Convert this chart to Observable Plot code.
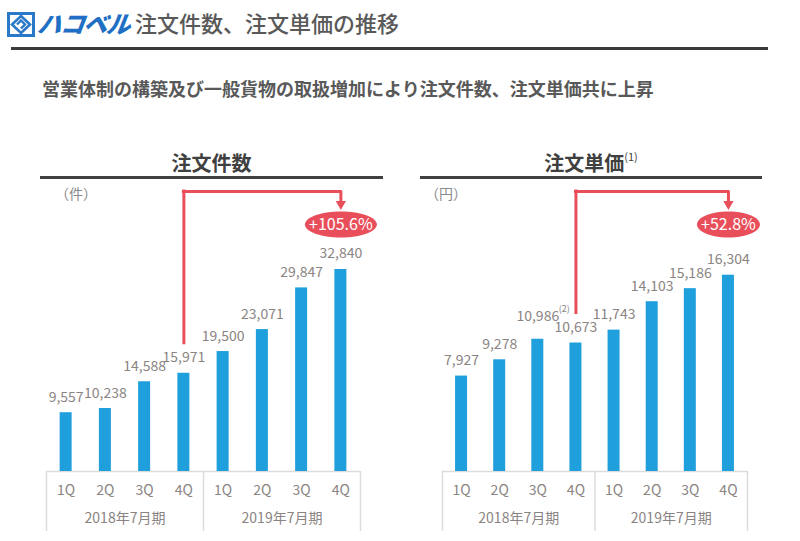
<!DOCTYPE html>
<html><head><meta charset="utf-8">
<script src="https://cdn.jsdelivr.net/npm/d3@7"></script>
<script src="https://cdn.jsdelivr.net/npm/@observablehq/plot@0.6"></script>
<style>
body{margin:0;background:#fff;font-family:"Noto Sans CJK JP","Noto Sans",sans-serif;}
#page{position:relative;width:800px;height:541px;overflow:hidden;background:#fff;}
.abs{position:absolute;white-space:nowrap;line-height:1;}
.chart{position:absolute;top:180px;}
</style></head><body>
<div id="page">
  <svg class="abs" style="left:7px;top:12px" width="28" height="25" viewBox="0 0 28 25">
    <rect x="0" y="0" width="28" height="25" fill="#2a78c8"/>
    <rect x="3" y="3" width="22" height="19" fill="#ffffff"/>
    <path d="M14 4 L23 12.5 L14 21 L5 12.5 Z" fill="none" stroke="#2a78c8" stroke-width="2.6"/>
    <path d="M10 12.5 L14 8.5 L18 12.5 L14 16.5" fill="none" stroke="#2a78c8" stroke-width="2.4"/>
  </svg>
  <div class="abs" id="brand" style="left:38px;top:11px;font-size:24px;font-weight:900;font-style:italic;color:#1f6fc4;letter-spacing:-1px;transform:skewX(-8deg);"></div>
  <div class="abs" id="title" style="left:135px;top:11px;font-size:22px;color:#595959;font-weight:500;"></div>
  <div class="abs" style="left:11px;top:47px;width:757px;height:3px;background:#3a3a3a;"></div>
  <div class="abs" id="subtitle" style="left:42px;top:79px;font-size:18px;color:#595959;font-weight:700;"></div>

  <div class="abs" id="t1" style="left:40px;width:343px;top:153px;text-align:center;font-size:20px;font-weight:700;color:#404040;"></div>
  <div class="abs" style="left:40px;top:176px;width:343px;height:3px;background:#404040;"></div>
  <div class="abs" id="u1" style="left:55px;top:186px;font-size:14px;color:#8a8a8a;"></div>

  <div class="abs" id="t2" style="left:420px;width:342px;top:153px;text-align:center;font-size:20px;font-weight:700;color:#404040;"></div>
  <div class="abs" style="left:420px;top:176px;width:342px;height:3px;background:#404040;"></div>
  <div class="abs" id="u2" style="left:425px;top:186px;font-size:14px;color:#8a8a8a;"></div>

  <div class="chart" id="left" style="left:0px"></div>
  <div class="chart" id="right" style="left:400px"></div>
</div>
<script>
// ---- text ----
const brandText = "ハコベル";
const titleText = "注文件数、注文単価の推移";
const subtitleText = "営業体制の構築及び一般貨物の取扱増加により注文件数、注文単価共に上昇";
const panelTitles = ["注文件数", "注文単価"];
const panelTitleNotes = [null, "(1)"];
const units = ["（件）", "（円）"];

// ---- categories ----
const quarters = ["1Q", "2Q", "3Q", "4Q"];
const fiscalYears = ["2018年7月期", "2019年7月期"];

// ---- values ----
const orderCounts = [9557, 10238, 14588, 15971, 19500, 23071, 29847, 32840];
const unitPrices = [7927, 9278, 10986, 10673, 11743, 14103, 15186, 16304];
const unitPriceNotes = [null, null, "(2)", null, null, null, null, null];

document.getElementById("brand").textContent = brandText;
document.getElementById("title").textContent = titleText;
document.getElementById("subtitle").textContent = subtitleText;
document.getElementById("u1").textContent = units[0];
document.getElementById("u2").textContent = units[1];
function setTitle(id, t, n) {
  const el = document.getElementById(id);
  el.textContent = t;
  if (n) {
    const s = document.createElement("sup");
    s.textContent = n;
    s.style.fontSize = "11px"; s.style.fontWeight = "400"; s.style.verticalAlign = "top";
    s.style.position = "relative"; s.style.top = "-2px";
    el.appendChild(s);
  }
}
setTitle("t1", panelTitles[0], panelTitleNotes[0]);
setTitle("t2", panelTitles[1], panelTitleNotes[1]);

const BLUE = "#1f9fdb";
const RED = "#e94f5b";
const GRAY = "#8a8482";
const BOX = "#dcdcdc";
const fmt = d3.format(",");
const pct = d3.format("+.1%");
const keys = fiscalYears.flatMap(y => quarters.map(q => `${y}|${q}`));

function ellipseSymbol(rx, ry) {
  const k = 0.5523;
  return {
    draw(ctx) {
      ctx.moveTo(rx, 0);
      ctx.bezierCurveTo(rx, ry * k, rx * k, ry, 0, ry);
      ctx.bezierCurveTo(-rx * k, ry, -rx, ry * k, -rx, 0);
      ctx.bezierCurveTo(-rx, -ry * k, -rx * k, -ry, 0, -ry);
      ctx.bezierCurveTo(rx * k, -ry, rx, -ry * k, rx, 0);
      ctx.closePath();
    }
  };
}

function panel({values, notes, yMax, marginLeft, marginRight, rx}) {
  const width = 400, height = 361, marginTop = 11, marginBottom = 70;
  const bw = (width - marginLeft - marginRight) / keys.length;
  const inset = (bw - 12) / 2;
  const rows = keys.map((k, i) => ({key: k, value: values[i], note: notes ? notes[i] : null}));
  const from = rows[3], to = rows[7];
  const growth = pct(to.value / from.value - 1);
  const textStyle = {fontSize: 14, fill: GRAY};
  const top = () => yMax;
  return Plot.plot({
    width, height, marginTop, marginBottom, marginLeft, marginRight,
    style: {fontFamily: '"Noto Sans CJK JP", sans-serif', fontSize: "14px", overflow: "visible", background: "transparent"},
    x: {type: "band", domain: keys, padding: 0, round: false, label: null},
    y: {domain: [0, yMax], axis: null},
    marks: [
      Plot.ruleY([0], {stroke: BOX, strokeWidth: 1.5}),
      Plot.ruleX([keys[0], keys[4]], {x: d => d, y1: 0, dx: -bw / 2, insetBottom: -60, stroke: BOX, strokeWidth: 1.5}),
      Plot.ruleX([keys[7]], {x: d => d, y1: 0, dx: bw / 2, insetBottom: -60, stroke: BOX, strokeWidth: 1.5}),
      Plot.barY(rows, {x: "key", y: "value", fill: BLUE, insetLeft: inset, insetRight: inset}),
      Plot.text(rows.filter(d => !d.note), {x: "key", y: "value", text: d => fmt(d.value), dy: -11, lineAnchor: "bottom", ...textStyle}),
      Plot.text(rows.filter(d => d.note), {x: "key", y: "value", text: d => fmt(d.value), dy: -18, lineAnchor: "bottom", ...textStyle}),
      Plot.text(rows.filter(d => d.note), {x: "key", y: "value", text: "note", dx: 21, dy: -30, textAnchor: "start", fontSize: 9, fill: GRAY}),
      Plot.axisX({tickSize: 0, tickPadding: 14, tickFormat: d => d.split("|")[1], fontSize: 14, fill: GRAY, label: null}),
      Plot.text(fiscalYears, {x: d => `${d}|2Q`, text: d => d, frameAnchor: "bottom", dx: bw / 2, dy: 51, ...textStyle}),
      // growth arrow
      Plot.ruleX([from], {x: "key", y1: top, y2: "value", insetBottom: 30, stroke: RED, strokeWidth: 3, strokeLinecap: "square"}),
      Plot.ruleY([from], {x1: () => from.key, x2: () => to.key, y: top, insetLeft: bw / 2, insetRight: bw / 2, stroke: RED, strokeWidth: 3, strokeLinecap: "square"}),
      Plot.ruleX([to], {x: "key", y1: top, y2: top, insetBottom: -12, stroke: RED, strokeWidth: 3}),
      Plot.dot([to], {x: "key", y: top, dy: 12.5, symbol: "triangle", rotate: 180, r: 3.8, fill: RED, stroke: "none"}),
      Plot.dot([to], {x: "key", y: top, dy: 33, symbol: ellipseSymbol(rx, 13), fill: RED, stroke: "none"}),
      Plot.text([to], {x: "key", y: top, dy: 33, text: () => growth, fill: "#ffffff", fontSize: 16})
    ]
  });
}

document.getElementById("left").appendChild(panel({values: orderCounts, notes: null, yMax: 45520, marginLeft: 46, marginRight: 40, rx: 36}));
document.getElementById("right").appendChild(panel({values: unitPrices, notes: unitPriceNotes, yMax: 23256, marginLeft: 42, marginRight: 53, rx: 31.5}));
</script>
</body></html>
